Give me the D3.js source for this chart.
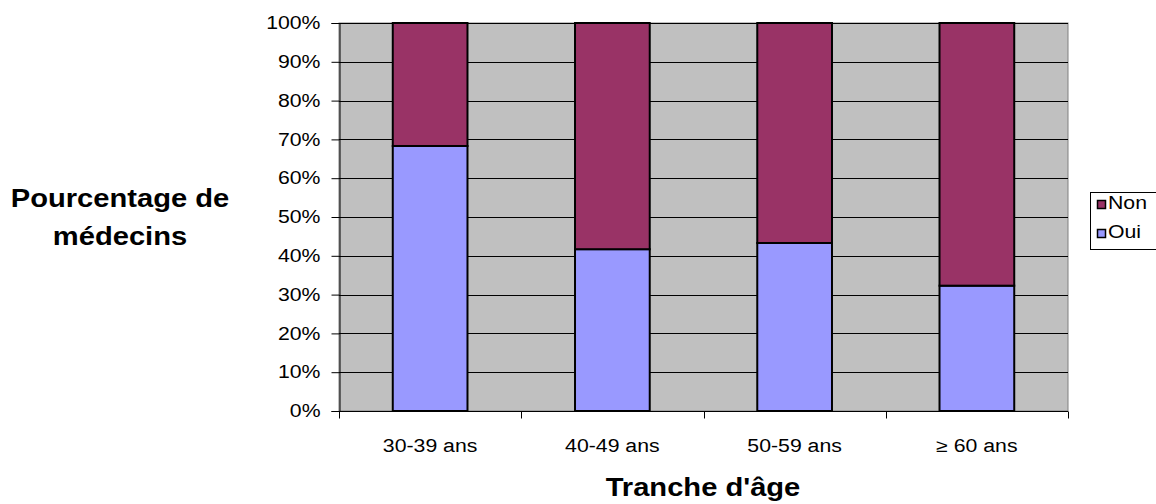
<!DOCTYPE html>
<html>
<head>
<meta charset="utf-8">
<script src="https://cdn.jsdelivr.net/npm/d3@7"></script>
<style>
  html, body { margin: 0; padding: 0; background: #fff; }
  svg { display: block; font-family: "Liberation Sans", Arial, sans-serif; }
</style>
</head>
<body>
<svg id="chart" width="1156" height="504"></svg>
<script>
// Tranches d'âge et part des réponses (en %)
const categories = ["30-39 ans", "40-49 ans", "50-59 ans", "\u2265 60 ans"];
const oui = [68.3, 41.7, 43.3, 32.3];
const non = oui.map(v => 100 - v);
const yTicks = [0, 10, 20, 30, 40, 50, 60, 70, 80, 90, 100];
const seriesNames = ["Non", "Oui"];
const seriesColors = { Oui: "#9999FF", Non: "#993366" };

const svg = d3.select("#chart");
const plot = { left: 339, top: 23, right: 1068, bottom: 411 };

// Texte légèrement élargi horizontalement
function widen(sel, k) {
  sel.each(function () {
    const w = this.getComputedTextLength();
    d3.select(this).attr("textLength", w * k).attr("lengthAdjust", "spacingAndGlyphs");
  });
}

const x = d3.scaleBand().domain(categories).range([plot.left, plot.right]).paddingInner(0.59).paddingOuter(0.295);
const xBand = d3.scaleBand().domain(categories).range([plot.left, plot.right]);
const y = d3.scaleLinear().domain([0, 100]).range([plot.bottom, plot.top]);

// Fond de la zone de tracé
svg.append("rect")
  .attr("x", plot.left).attr("y", plot.top)
  .attr("width", plot.right - plot.left).attr("height", plot.bottom - plot.top)
  .attr("fill", "#C0C0C0").attr("stroke", "#808080").attr("stroke-width", 1);

// Quadrillage horizontal
svg.append("g").selectAll("line").data(yTicks.filter(t => t > 0)).join("line")
  .attr("x1", plot.left).attr("x2", plot.right)
  .attr("y1", d => Math.round(y(d)) + 0.5).attr("y2", d => Math.round(y(d)) + 0.5)
  .attr("stroke", "#000").attr("stroke-width", 1);

// Barres empilées
const rows = categories.map((c, i) => ({ cat: c, Oui: oui[i], Non: non[i] }));
const stacked = d3.stack().keys(["Oui", "Non"])(rows);
svg.append("g").selectAll("g").data(stacked).join("g")
  .attr("fill", d => seriesColors[d.key])
  .selectAll("rect").data(d => d).join("rect")
  .attr("x", d => x(d.data.cat))
  .attr("y", d => y(d[1]))
  .attr("width", x.bandwidth())
  .attr("height", d => y(d[0]) - y(d[1]))
  .attr("stroke", "#000").attr("stroke-width", 2);

// Axe Y
const yAxis = d3.axisLeft(y).tickValues(yTicks).tickFormat(d => d + "%").tickSize(8).tickPadding(11);
const gy = svg.append("g").attr("transform", `translate(${plot.left + 0.5},0)`).call(yAxis);
gy.select(".domain").attr("stroke", "#000");
gy.selectAll(".tick line").attr("stroke", "#000");
gy.selectAll(".tick text").attr("font-size", 18).attr("fill", "#000")
  .attr("font-family", "Liberation Sans, Arial, sans-serif").call(widen, 1.18);

// Axe X
const gx = svg.append("g").attr("transform", `translate(0,${plot.bottom + 0.5})`);
gx.append("line").attr("x1", plot.left).attr("x2", plot.right).attr("stroke", "#000");
gx.selectAll("line.tk").data(categories.map(c => xBand(c)).concat([plot.right])).join("line")
  .attr("class", "tk")
  .attr("x1", d => Math.round(d) + 0.5).attr("x2", d => Math.round(d) + 0.5)
  .attr("y1", 0).attr("y2", 7).attr("stroke", "#000");
gx.selectAll("text").data(categories).join("text")
  .attr("x", d => xBand(d) + xBand.bandwidth() / 2)
  .attr("y", 40)
  .attr("text-anchor", "middle").attr("font-size", 18).attr("fill", "#000")
  .text(d => d).call(widen, 1.18);

// Titres des axes
svg.append("text").attr("x", 703).attr("y", 496).attr("text-anchor", "middle")
  .attr("font-size", 26).attr("font-weight", "bold").text("Tranche d'âge").call(widen, 1.12);
const yTitle = ["Pourcentage de", "médecins"];
svg.append("g").selectAll("text").data(yTitle).join("text")
  .attr("x", 120).attr("y", (d, i) => 207 + i * 38)
  .attr("text-anchor", "middle").attr("font-size", 26).attr("font-weight", "bold")
  .text(d => d).call(widen, 1.12);

// Légende
const lg = svg.append("g");
lg.append("rect").attr("x", 1090.5).attr("y", 192.5).attr("width", 80).attr("height", 57)
  .attr("fill", "#fff").attr("stroke", "#000");
seriesNames.forEach((name, i) => {
  const yy = 200 + i * 29;
  lg.append("rect").attr("x", 1097.5).attr("y", yy + 0.5).attr("width", 8).attr("height", 8)
    .attr("fill", seriesColors[name]).attr("stroke", "#000").attr("stroke-width", 1.5);
  lg.append("text").attr("x", 1108).attr("y", yy + 9).attr("font-size", 18).text(name).call(widen, 1.18);
});
</script>
</body>
</html>
